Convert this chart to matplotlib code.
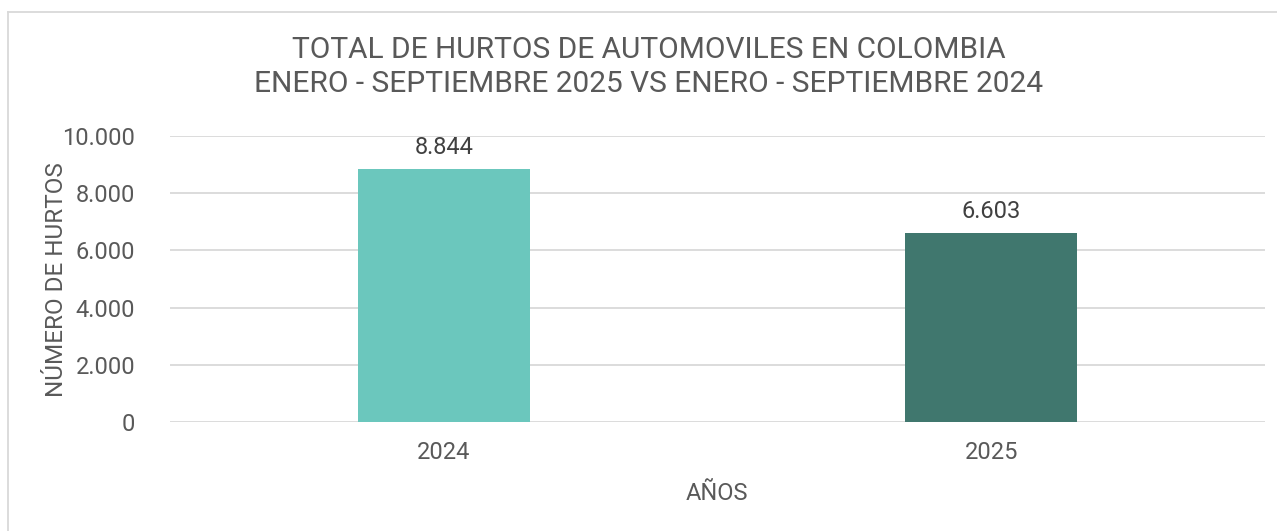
import matplotlib
matplotlib.use("Agg")
import matplotlib.pyplot as plt
from matplotlib.lines import Line2D
from matplotlib.ticker import FuncFormatter

years = ["2024", "2025"]
hurtos = [8844, 6603]
bar_colors = ["#6BC7BD", "#40776E"]

plt.rcParams['font.family'] = ['Liberation Sans Narrow', 'Roboto', 'DejaVu Sans']
gray = "#595959"

fig = plt.figure(figsize=(12.77, 5.31), dpi=100)
W, H = 1277, 531
# plot area in pixels: x 170..1265, y 136..422
ax = fig.add_axes([170 / W, 1 - 422 / H, 1095 / W, 286 / H])

x = range(len(years))
bars = ax.bar(x, hurtos, width=0.314, color=bar_colors, zorder=3)
ax.set_xlim(-0.5, 1.5)
ax.set_ylim(0, 10000)
ax.set_yticks(range(0, 10001, 2000))
ax.yaxis.set_major_formatter(FuncFormatter(lambda v, p: f"{int(v):,}".replace(",", ".")))
ax.set_xticks(list(x))
ax.set_xticklabels(years)
ax.grid(axis="y", color="#D9D9D9", linewidth=1.3, zorder=0)
for s in ax.spines.values():
    s.set_visible(False)
ax.tick_params(axis="both", length=0, colors=gray, labelsize=17)
ax.tick_params(axis="y", pad=25)
ax.tick_params(axis="x", pad=14)

for b, v in zip(bars, hurtos):
    ax.text(b.get_x() + b.get_width() / 2, v + 350, f"{v:,}".replace(",", "."),
            ha="center", va="bottom", fontsize=17, color="#404040")

fig.text(57 / W, 1 - 280 / H, "NÚMERO DE HURTOS", rotation=90, ha="center", va="center",
         fontsize=17.5, color=gray)
fig.text(717 / W, 1 - 494 / H, "AÑOS", ha="center", va="center", fontsize=17, color=gray)
fig.text(649 / W, 1 - 67 / H,
         "TOTAL DE HURTOS DE AUTOMOVILES EN COLOMBIA\nENERO - SEPTIEMBRE 2025 VS ENERO - SEPTIEMBRE 2024",
         ha="center", va="center", fontsize=21.5, color=gray, linespacing=1.28)

# chart frame
fig.add_artist(Line2D([8 / W, 8 / W], [0, 1 - 12 / H], color="#D9D9D9", lw=1.3, transform=fig.transFigure))
fig.add_artist(Line2D([8 / W, 1], [1 - 12 / H, 1 - 12 / H], color="#D9D9D9", lw=1.3, transform=fig.transFigure))

fig.savefig("out.png", dpi=100)
